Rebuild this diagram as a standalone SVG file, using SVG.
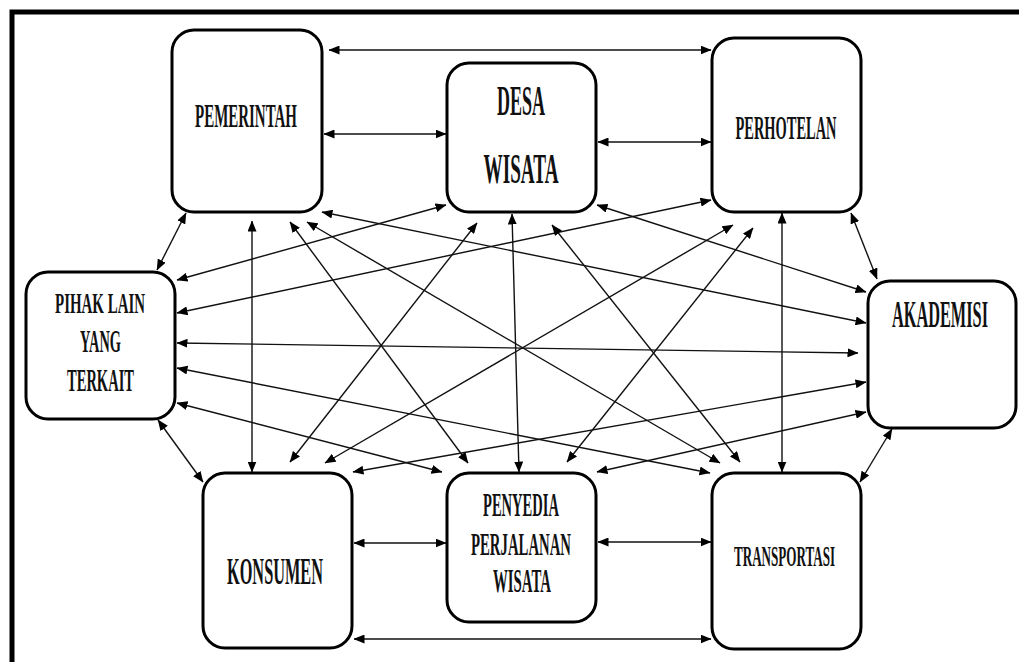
<svg xmlns="http://www.w3.org/2000/svg" width="1019" height="662" viewBox="0 0 1019 662">
<style>
.frame{fill:none;stroke:#000;stroke-width:5}
.node{fill:#fff;stroke:#000;stroke-width:3}
.lbl{font-family:"Liberation Serif","Times New Roman",serif;font-weight:bold;fill:#111;text-anchor:middle}
.edges line{stroke:#111;stroke-width:1.4;marker-start:url(#ah);marker-end:url(#ah)}
</style>
<defs>
<marker id="ah" markerUnits="userSpaceOnUse" markerWidth="11" markerHeight="9" refX="10.5" refY="4.5" orient="auto-start-reverse" viewBox="0 0 11 9">
<path d="M0,0 L11,4.5 L0,9 z" fill="#000"/>
</marker>
</defs>
<rect x="0" y="0" width="1019" height="662" fill="#fff"/>
<rect class="frame" x="12" y="12" width="1030" height="670"/>
<g id="connectors" class="edges">
<line x1="329" y1="50" x2="711" y2="50"/>
<line x1="324" y1="134" x2="446" y2="134"/>
<line x1="598" y1="142" x2="711" y2="142"/>
<line x1="354" y1="543" x2="446" y2="543"/>
<line x1="598" y1="542" x2="711" y2="542"/>
<line x1="354" y1="639" x2="711" y2="639"/>
<line x1="252" y1="221" x2="252" y2="472"/>
<line x1="512" y1="214" x2="519" y2="472"/>
<line x1="782" y1="213" x2="782" y2="472"/>
<line x1="186" y1="213" x2="157" y2="270"/>
<line x1="158" y1="420" x2="203" y2="482"/>
<line x1="851" y1="213" x2="877" y2="279"/>
<line x1="892" y1="429" x2="860" y2="482"/>
<line x1="177" y1="280" x2="446" y2="205"/>
<line x1="177" y1="313" x2="711" y2="200"/>
<line x1="177" y1="343" x2="858" y2="353"/>
<line x1="177" y1="368" x2="710" y2="473"/>
<line x1="177" y1="403" x2="442" y2="472"/>
<line x1="597" y1="205" x2="866" y2="292"/>
<line x1="322" y1="212" x2="866" y2="323"/>
<line x1="353" y1="472" x2="866" y2="382"/>
<line x1="597" y1="472" x2="866" y2="412"/>
<line x1="290" y1="222" x2="468" y2="463"/>
<line x1="307" y1="222" x2="720" y2="463"/>
<line x1="477" y1="223" x2="290" y2="462"/>
<line x1="552" y1="225" x2="740" y2="462"/>
<line x1="733" y1="225" x2="325" y2="463"/>
<line x1="753" y1="228" x2="567" y2="462"/>
</g>
<g id="pemerintah">
<rect class="node" x="172" y="30" width="150" height="182" rx="22"/>
<text class="lbl" transform="translate(246 127) scale(0.5 1)" font-size="33" textLength="204" lengthAdjust="spacingAndGlyphs">PEMERINTAH</text>
</g>
<g id="desa-wisata">
<rect class="node" x="447" y="63" width="149" height="149" rx="22"/>
<text class="lbl" transform="translate(521 115) scale(0.5 1)" font-size="42" textLength="96" lengthAdjust="spacingAndGlyphs">DESA</text>
<text class="lbl" transform="translate(521 183) scale(0.5 1)" font-size="42" textLength="150" lengthAdjust="spacingAndGlyphs">WISATA</text>
</g>
<g id="perhotelan">
<rect class="node" x="712" y="38" width="149" height="174" rx="22"/>
<text class="lbl" transform="translate(786 139) scale(0.5 1)" font-size="34" textLength="202" lengthAdjust="spacingAndGlyphs">PERHOTELAN</text>
</g>
<g id="pihak-lain">
<rect class="node" x="26" y="272" width="149" height="147" rx="22"/>
<text class="lbl" transform="translate(100 313) scale(0.5 1)" font-size="30" textLength="180" lengthAdjust="spacingAndGlyphs">PIHAK LAIN</text>
<text class="lbl" transform="translate(100.5 352) scale(0.5 1)" font-size="32" textLength="82" lengthAdjust="spacingAndGlyphs">YANG</text>
<text class="lbl" transform="translate(100.5 391) scale(0.5 1)" font-size="31" textLength="134" lengthAdjust="spacingAndGlyphs">TERKAIT</text>
</g>
<g id="akademisi">
<rect class="node" x="868" y="281" width="148" height="147" rx="22"/>
<text class="lbl" transform="translate(940 327) scale(0.5 1)" font-size="37" textLength="192" lengthAdjust="spacingAndGlyphs">AKADEMISI</text>
</g>
<g id="konsumen">
<rect class="node" x="203" y="473" width="149" height="175" rx="22"/>
<text class="lbl" transform="translate(275 584) scale(0.5 1)" font-size="37" textLength="192" lengthAdjust="spacingAndGlyphs">KONSUMEN</text>
</g>
<g id="penyedia">
<rect class="node" x="447" y="473" width="149" height="149" rx="22"/>
<text class="lbl" transform="translate(521 516) scale(0.5 1)" font-size="33" textLength="152" lengthAdjust="spacingAndGlyphs">PENYEDIA</text>
<text class="lbl" transform="translate(521 555) scale(0.5 1)" font-size="32" textLength="200" lengthAdjust="spacingAndGlyphs">PERJALANAN</text>
<text class="lbl" transform="translate(522 592) scale(0.5 1)" font-size="33" textLength="116" lengthAdjust="spacingAndGlyphs">WISATA</text>
</g>
<g id="transportasi">
<rect class="node" x="712" y="473" width="149" height="176" rx="22"/>
<text class="lbl" transform="translate(784.5 566) scale(0.5 1)" font-size="30" textLength="202" lengthAdjust="spacingAndGlyphs">TRANSPORTASI</text>
</g>
</svg>
